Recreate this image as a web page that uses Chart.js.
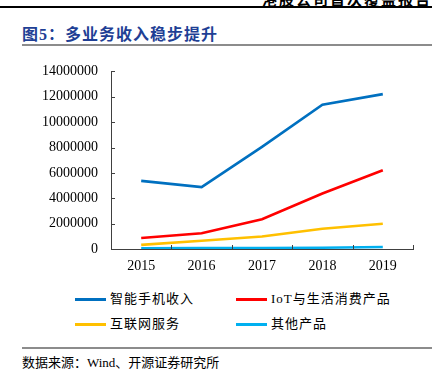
<!DOCTYPE html>
<html>
<head>
<meta charset="utf-8">
<script src="https://cdn.jsdelivr.net/npm/chart.js@4/dist/chart.umd.min.js"></script>
<style>
  body { margin: 0; width: 447px; height: 380px; background: #fff; position: relative; overflow: hidden;
         font-family: "Liberation Serif", "Noto Sans CJK SC", serif; }
  .hdr { position: absolute; right: 15px; top: -12px; font: bold 15px "Noto Sans CJK SC"; letter-spacing: 2px; color: #000; }
  .topline { position: absolute; left: 0; top: 6px; width: 432px; height: 2px; background: #000; }
  .title { position: absolute; left: 22px; top: 21px; font: bold 16px "Liberation Serif", "Noto Sans CJK SC"; color: #1f3f95; letter-spacing: 1px; }
  .rule { position: absolute; left: 22px; width: 410px; height: 2px; background: #8c8c8c; }
  #wrap { position: absolute; left: 0; top: 50px; width: 447px; height: 230px; }
  .leg { position: absolute; font: 13px "Liberation Serif", "Noto Sans CJK SC"; letter-spacing: 1px; color: #000; white-space: nowrap; }
  .leg i { display: inline-block; width: 31px; height: 3px; vertical-align: middle; margin-right: 4px; position: relative; top: -1px; }
  .src { position: absolute; left: 22px; top: 352px; font: 13px "Liberation Serif", "Noto Sans CJK SC"; color: #000; }
</style>
</head>
<body>
<div class="hdr">港股公司首次覆盖报告</div>
<div class="topline"></div>
<div class="title">图5：多业务收入稳步提升</div>
<div class="rule" style="top:44px"></div>
<div id="wrap"><canvas id="c"></canvas></div>
<div id="legend"></div>
<div class="rule" style="top:347px"></div>
<div class="src">数据来源：Wind、开源证券研究所</div>
<script>
'use strict';

// Data
const years = ['2015', '2016', '2017', '2018', '2019'];
const smartphone = [5371500, 4876400, 8056400, 11380000, 12209500];
const iotLife = [869100, 1241500, 2344700, 4380000, 6208800];
const internetSvc = [323900, 653800, 989600, 1599600, 1984200];
const others = [63400, 78000, 80500, 104000, 156000];
const seriesNames = ['智能手机收入', 'IoT与生活消费产品', '互联网服务', '其他产品'];
const seriesColors = ['#0070c0', '#ff0000', '#ffc000', '#00b0f0'];

// Inward tick marks on both axes
const innerTicks = {
    id: 'innerTicks',
    afterDraw(chart) {
        const ctx = chart.ctx;
        const xs = chart.scales.x;
        const ys = chart.scales.y;
        ctx.save();
        ctx.strokeStyle = '#404040';
        ctx.lineWidth = 1;
        ctx.beginPath();
        for (let i = 0; i < ys.ticks.length; i++) {
            let y = Math.round(ys.getPixelForTick(i)) + 0.5;
            ctx.moveTo(xs.left, y);
            ctx.lineTo(xs.left + 4, y);
        }
        let step = xs.getPixelForTick(1) - xs.getPixelForTick(0);
        for (let i = 1; i <= xs.ticks.length; i++) {
            let x = Math.round(xs.getPixelForTick(0) - step / 2 + step * i) + 0.5;
            ctx.moveTo(x, ys.bottom);
            ctx.lineTo(x, ys.bottom - 4);
        }
        ctx.stroke();
        ctx.restore();
    }
};

const values = [smartphone, iotLife, internetSvc, others];
const chart = new Chart(document.getElementById('c').getContext('2d'), {
    type: 'line',
    data: {
        labels: years,
        datasets: values.map((v, i) => ({
            label: seriesNames[i],
            data: v,
            borderColor: seriesColors[i],
            backgroundColor: seriesColors[i],
            borderWidth: 2.6,
            pointRadius: 0,
            tension: 0
        }))
    },
    options: {
        responsive: true,
        maintainAspectRatio: false,
        animation: false,
        layout: { padding: { top: 10, right: 34, left: 0, bottom: 0 } },
        plugins: { legend: { display: false }, tooltip: { enabled: false } },
        scales: {
            x: {
                offset: true,
                grid: { display: true, drawOnChartArea: false, drawTicks: false, offset: true },
                border: { display: true, color: '#404040', width: 1 },
                ticks: { color: '#000', padding: 9, maxRotation: 0,
                         font: { family: 'Liberation Serif', size: 14 } },
                afterFit: (s) => { s.height = 31; }
            },
            y: {
                min: 0,
                max: 14000000,
                grid: { display: true, drawOnChartArea: false, drawTicks: false },
                border: { display: true, color: '#404040', width: 1 },
                ticks: { stepSize: 2000000, color: '#000', padding: 13,
                         font: { family: 'Liberation Serif', size: 14 },
                         callback: (v) => String(v) },
                afterFit: (s) => { s.width = 111; }
            }
        }
    },
    plugins: [innerTicks]
});

// Legend from datasets
const legendPos = [[75, 288], [236, 288], [75, 313], [236, 313]];
const legendDiv = document.getElementById('legend');
chart.data.datasets.forEach((ds, i) => {
    let el = document.createElement('div');
    el.className = 'leg';
    el.style.left = legendPos[i][0] + 'px';
    el.style.top = legendPos[i][1] + 'px';
    el.innerHTML = '<i style="background:' + ds.borderColor + '"></i>' + ds.label;
    legendDiv.appendChild(el);
});
</script>
</body>
</html>
